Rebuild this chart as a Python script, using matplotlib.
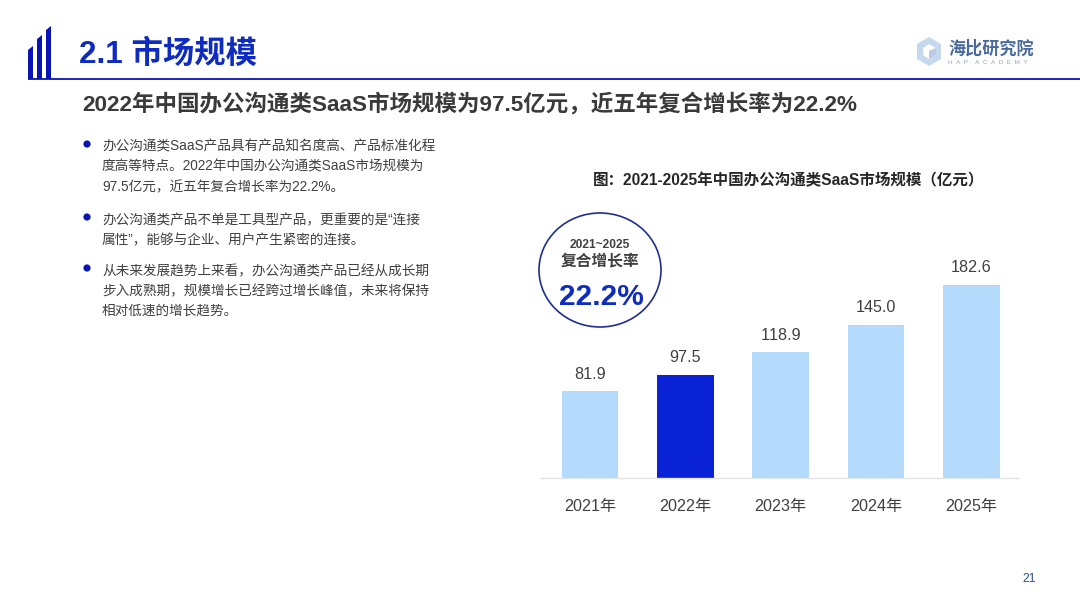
import matplotlib
matplotlib.use("Agg")
import matplotlib.pyplot as plt
from matplotlib.patches import Circle, Ellipse, Polygon

plt.rcParams['font.family'] = ['Liberation Sans', 'Noto Sans CJK SC', 'DejaVu Sans']
plt.rcParams['text.kerning_factor'] = 6

years = ['2021年', '2022年', '2023年', '2024年', '2025年']
values = [81.9, 97.5, 118.9, 145.0, 182.6]
bar_colors = ['#B3D9FB', '#0A22D6', '#B3D9FB', '#B3D9FB', '#B3D9FB']
title = '2.1 市场规模'
subtitle = '2022年中国办公沟通类SaaS市场规模为97.5亿元，近五年复合增长率为22.2%'
chart_title = '图：2021-2025年中国办公沟通类SaaS市场规模（亿元）'
bullets = [
    ['办公沟通类SaaS产品具有产品知名度高、产品标准化程', '度高等特点。2022年中国办公沟通类SaaS市场规模为', '97.5亿元，近五年复合增长率为22.2%。'],
    ['办公沟通类产品不单是工具型产品，更重要的是“连接', '属性”，能够与企业、用户产生紧密的连接。'],
    ['从未来发展趋势上来看，办公沟通类产品已经从成长期', '步入成熟期，规模增长已经跨过增长峰值，未来将保持', '相对低速的增长趋势。'],
]
bullet_rows = [[151, 171, 191], [224, 244], [275, 295, 315]]

W, H = 1080, 607
fig = plt.figure(figsize=(W / 100, H / 100), dpi=100, facecolor='white')

pg = fig.add_axes([0, 0, 1, 1], zorder=0)
pg.set_xlim(0, W)
pg.set_ylim(H, 0)
pg.axis('off')

BLUE = '#0A14B4'
pg.plot([28, 1080], [79, 79], color=BLUE, lw=1.3, solid_capstyle='butt')
for x0, x1, top_l, top_r in [(28, 33, 50, 46), (37, 42, 39, 35), (46, 51, 30, 26)]:
    pg.add_patch(Polygon([(x0, 79), (x0, top_l), (x1, top_r), (x1, 79)], closed=True, fc=BLUE, ec='none'))

pg.text(79, 63, title, fontsize=22.6, fontweight='bold', color='#0F2CC0', va='baseline', ha='left')
pg.text(82, 110.5, subtitle, fontsize=16.2, fontweight='bold', color='#3A3A3A', va='baseline', ha='left')

pg.add_patch(Polygon([(929, 37), (941, 44), (941, 59), (929, 66), (917, 59), (917, 44)], closed=True,
                     fc='#C4D8EE', ec='none'))
pg.add_patch(Polygon([(929, 44), (936, 48), (936, 55), (929, 59), (923, 55), (923, 48)], closed=True,
                     fc='white', ec='none'))
pg.add_patch(Polygon([(929, 51), (936, 48), (936, 55), (929, 59)], closed=True, fc='#B9C9E6', ec='none'))
pg.text(948, 54, '海比研究院', fontsize=12.3, fontweight='bold', color='#4A6A9C', va='baseline', ha='left')
pg.text(948, 64, 'H  A  P    A  C  A  D  E  M  Y', fontsize=4.6, color='#9AA3AE', va='baseline', ha='left')

for lines, rows in zip(bullets, bullet_rows):
    pg.add_patch(Circle((87, rows[0] - 7), 3.6, fc='#0A14B4', ec='none'))
    for line, y in zip(lines, rows):
        pg.text(102, y, line, fontsize=9.82, color='#404040', va='baseline', ha='left')

pg.text(789, 185, chart_title, fontsize=11.2, fontweight='bold', color='#262626', va='baseline', ha='center')

left, right, bottom, top = 541, 1018, 478, 258
ax = fig.add_axes([left / W, 1 - bottom / H, (right - left) / W, (bottom - top) / H], zorder=1)
ax.patch.set_alpha(0)
xs = list(range(len(years)))
ax.bar(xs, values, width=0.595, color=bar_colors)
ax.set_xlim(-0.514, 4.49)
ax.set_ylim(0, (bottom - top) / 1.057)
ax.set_xticks(xs, years)
ax.set_yticks([])
ax.tick_params(axis='x', length=0, pad=15, labelsize=11.6, labelcolor='#404040')
for s in ['top', 'left', 'right']:
    ax.spines[s].set_visible(False)
ax.spines['bottom'].set_color('#E4E4E4')
ax.spines['bottom'].set_linewidth(1.0)
for x, v in zip(xs, values):
    ax.annotate(f'{v:.1f}', (x, v), xytext=(0, 7), textcoords='offset points', ha='center', va='bottom',
                fontsize=11.6, color='#404040')

top_ax = fig.add_axes([0, 0, 1, 1], zorder=2)
top_ax.set_xlim(0, W)
top_ax.set_ylim(H, 0)
top_ax.axis('off')
top_ax.add_patch(Ellipse((600, 270), 122, 114, fc='white', ec='#1F2F8F', lw=1.2))
top_ax.text(600, 245, '2021~2025', fontsize=8.6, fontweight='bold', color='#404040', ha='center', va='center')
top_ax.text(600, 262, '复合增长率', fontsize=11.3, fontweight='bold', color='#404040', ha='center', va='center')
top_ax.text(601, 297, '22.2%', fontsize=21.5, fontweight='bold', color='#0F2CC0', ha='center', va='center')
top_ax.text(1029, 579, '21', fontsize=8.8, color='#2F4F8F', ha='center', va='center')

fig.savefig('out.png', dpi=100, facecolor='white')
